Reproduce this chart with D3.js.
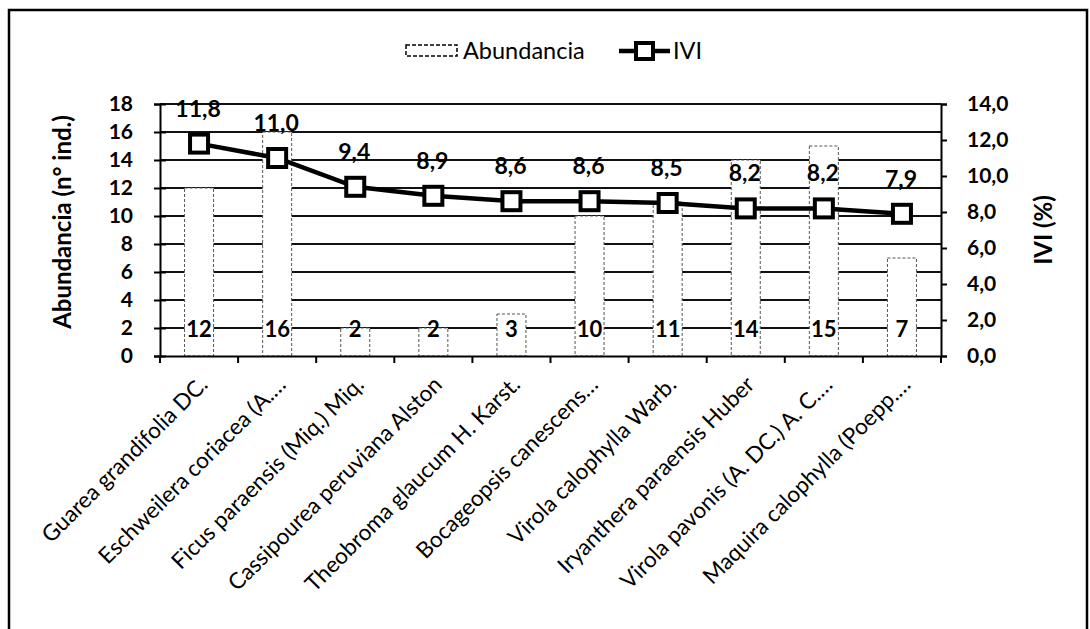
<!DOCTYPE html>
<html><head><meta charset="utf-8">
<script src="https://cdn.jsdelivr.net/npm/d3@7"></script>
<style>body{margin:0;background:#fff}svg{display:block}text{font-family:"Lato","Open Sans",sans-serif}</style>
</head><body><svg id="c" width="1090" height="629"></svg>
<script>
const categories = ["Guarea grandifolia DC.","Eschweilera coriacea (A.…","Ficus paraensis (Miq.) Miq.","Cassipourea peruviana Alston","Theobroma glaucum H. Karst.","Bocageopsis canescens…","Virola calophylla Warb.","Iryanthera paraensis Huber","Virola pavonis (A. DC.) A. C.…","Maquira calophylla (Poepp.…"];
const abundancia = [12,16,2,2,3,10,11,14,15,7];
const ivi = [11.8,11.0,9.4,8.9,8.6,8.6,8.5,8.2,8.2,7.9];
const leftTicks = [0,2,4,6,8,10,12,14,16,18];
const rightTicks = [0,2,4,6,8,10,12,14];

const svg = d3.select("#c");
const L=160,R=941,T=104,B=356;
const x = d3.scaleBand().domain(categories).range([L,R]);
const yL = d3.scaleLinear().domain([0,18]).range([B,T]);
const yR = d3.scaleLinear().domain([0,14]).range([B,T]);
const fmt = v => d3.format(".1f")(v).replace(".",",");

// outer frame
svg.append("path").attr("d","M9,629 V10 H1087 V629").attr("fill","none").attr("stroke","#000").attr("stroke-width",2.5);

// gridlines
svg.append("g").selectAll("line").data(leftTicks.slice(1)).join("line")
  .attr("x1",L).attr("x2",R).attr("y1",d=>yL(d)).attr("y2",d=>yL(d))
  .attr("stroke","#111").attr("stroke-width",1.8);

// bars
const bw = 29;
svg.append("g").selectAll("rect").data(abundancia).join("rect")
  .attr("x",(d,i)=>x(categories[i])+x.bandwidth()/2-bw/2).attr("width",bw)
  .attr("y",d=>yL(d)).attr("height",d=>B-yL(d))
  .attr("fill","#fff").attr("stroke","#555").attr("stroke-width",1).attr("stroke-dasharray","3,2");

// axes
const gl = svg.append("g").attr("transform",`translate(${L},0)`)
  .call(d3.axisLeft(yL).tickValues(leftTicks).tickSize(6).tickPadding(21));
gl.selectAll(".tick line").attr("x2",-6).attr("x1",6);
gl.select(".domain").attr("stroke","#000").attr("stroke-width",2);
gl.selectAll(".tick line").attr("stroke","#000").attr("stroke-width",2);
gl.selectAll("text").attr("font-size",21).attr("font-weight","bold").attr("fill","#000");

const gr = svg.append("g").attr("transform",`translate(${R},0)`)
  .call(d3.axisRight(yR).tickValues(rightTicks).tickSize(6).tickPadding(20).tickFormat(fmt));
gr.select(".domain").attr("stroke","#000").attr("stroke-width",2);
gr.selectAll(".tick line").attr("stroke","#000").attr("stroke-width",2);
gr.selectAll("text").attr("font-size",21).attr("font-weight","bold").attr("fill","#000");

const gx = svg.append("g").attr("transform",`translate(0,${B})`)
  .call(d3.axisBottom(x).tickSize(0).tickFormat(""));
gx.select(".domain").attr("stroke","#000").attr("stroke-width",2);
gx.selectAll(".tick").remove();
const bounds = categories.map(c=>x(c)).concat([R]);
svg.append("g").selectAll("line").data(bounds).join("line")
  .attr("x1",d=>d).attr("x2",d=>d).attr("y1",B).attr("y2",B+7)
  .attr("stroke","#000").attr("stroke-width",2);

// x labels
svg.append("g").selectAll("text").data(categories).join("text")
  .attr("transform",d=>`translate(${x(d)+x.bandwidth()/2+10},${B+30}) rotate(-45)`)
  .attr("text-anchor","end").attr("font-size",22.5).attr("fill","#000").text(d=>d);

// bar labels
svg.append("g").selectAll("text").data(abundancia).join("text")
  .attr("x",(d,i)=>x(categories[i])+x.bandwidth()/2).attr("y",B-19)
  .attr("text-anchor","middle").attr("font-size",22).attr("font-weight","bold").attr("fill","#000")
  .text(d=>d);

// line
const cx = (d,i)=>x(categories[i])+x.bandwidth()/2;
svg.append("path").datum(ivi)
  .attr("d",d3.line().x(cx).y(d=>yR(d)))
  .attr("fill","none").attr("stroke","#000").attr("stroke-width",4.5);
svg.append("g").selectAll("rect").data(ivi).join("rect")
  .attr("x",(d,i)=>cx(d,i)-9).attr("y",d=>yR(d)-9).attr("width",18).attr("height",18)
  .attr("fill","#fff").attr("stroke","#000").attr("stroke-width",4);
svg.append("g").selectAll("text").data(ivi).join("text")
  .attr("x",(d,i)=>cx(d,i)-1).attr("y",d=>yR(d)-27)
  .attr("text-anchor","middle").attr("font-size",23).attr("font-weight","bold").attr("fill","#000")
  .text(fmt);

// axis titles
svg.append("text").attr("transform","translate(71,222) rotate(-90)")
  .attr("text-anchor","middle").attr("font-size",24).attr("font-weight","bold").text("Abundancia (n° ind.)");
svg.append("text").attr("transform","translate(1052,230) rotate(-90)")
  .attr("text-anchor","middle").attr("font-size",24).attr("font-weight","bold").text("IVI (%)");

// legend
const lg = svg.append("g");
lg.append("rect").attr("x",406).attr("y",45).attr("width",51).attr("height",11)
  .attr("fill","#fff").attr("stroke","#000").attr("stroke-width",1.5).attr("stroke-dasharray","4,2");
lg.append("text").attr("x",463).attr("y",59).attr("font-size",23.5).text("Abundancia");
lg.append("line").attr("x1",619).attr("x2",670).attr("y1",51).attr("y2",51).attr("stroke","#000").attr("stroke-width",4.5);
lg.append("rect").attr("x",636).attr("y",43).attr("width",17).attr("height",16)
  .attr("fill","#fff").attr("stroke","#000").attr("stroke-width",4);
lg.append("text").attr("x",673).attr("y",59).attr("font-size",23.5).text("IVI");
</script></body></html>
